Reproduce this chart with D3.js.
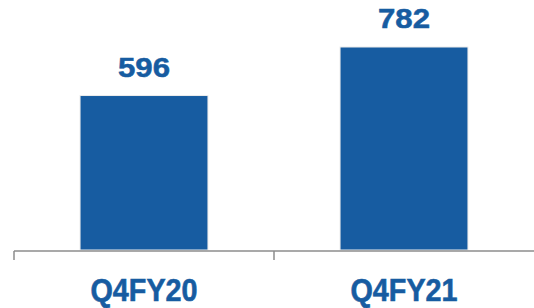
<!DOCTYPE html>
<html>
<head>
<meta charset="utf-8">
<script src="https://cdn.jsdelivr.net/npm/d3@7"></script>
<style>
  body { margin: 0; background: #fff; }
  text { font-family: "Liberation Sans", Arial, sans-serif; font-weight: bold; }
</style>
</head>
<body>
<svg id="chart" width="534" height="308"></svg>
<script>
const categories = ["Q4FY20", "Q4FY21"];
const values = [596, 782];

const svg = d3.select("#chart");
const margin = { top: 0, right: 0, bottom: 57, left: 14 };
const width = 534 - margin.left - margin.right;
const height = 308 - margin.top - margin.bottom;
const blue = "#175ca1";

const g = svg.append("g")
    .attr("transform", "translate(" + margin.left + "," + margin.top + ")");

const x = d3.scaleBand()
    .domain(categories)
    .range([0, width])
    .paddingInner(0.508)
    .paddingOuter(0.254);

const y = d3.scaleLinear()
    .domain([0, 782])
    .range([height, 47]);

// bars
g.selectAll("rect.bar").data(values)
    .join("rect")
    .attr("class", "bar")
    .attr("x", (d, i) => x(categories[i]))
    .attr("y", d => y(d))
    .attr("width", x.bandwidth())
    .attr("height", d => y(0) - y(d) - 1)
    .attr("fill", blue)
    .attr("stroke", "#ececec")
    .attr("stroke-width", 1);

// value labels
g.selectAll("text.val").data(values)
    .join("text")
    .attr("class", "val")
    .attr("x", (d, i) => x(categories[i]) + x.bandwidth() / 2)
    .attr("y", d => y(d) - 19)
    .attr("text-anchor", "middle")
    .attr("fill", blue)
    .attr("stroke", blue)
    .attr("stroke-width", 0.5)
    .style("font-size", "27px")
    .attr("textLength", 52)
    .attr("lengthAdjust", "spacingAndGlyphs")
    .text(d => d);

// axis line with ticks at band edges
const axis = g.append("g").attr("transform", "translate(0," + height + ")");
axis.append("line")
    .attr("x1", 0).attr("x2", width)
    .attr("y1", 0).attr("y2", 0)
    .attr("stroke", "#8c8c8c").attr("stroke-width", 1.5);
axis.selectAll("line.tick").data([0, x.step()])
    .join("line")
    .attr("class", "tick")
    .attr("x1", d => d).attr("x2", d => d)
    .attr("y1", 0).attr("y2", 9)
    .attr("stroke", "#8c8c8c").attr("stroke-width", 1.5);

// category labels
axis.selectAll("text.cat").data(categories)
    .join("text")
    .attr("class", "cat")
    .attr("x", d => x(d) + x.bandwidth() / 2)
    .attr("y", 50)
    .attr("text-anchor", "middle")
    .attr("fill", blue)
    .attr("stroke", blue)
    .attr("stroke-width", 0.6)
    .style("font-size", "31px")
    .attr("textLength", 107)
    .attr("lengthAdjust", "spacingAndGlyphs")
    .text(d => d);
</script>
</body>
</html>
